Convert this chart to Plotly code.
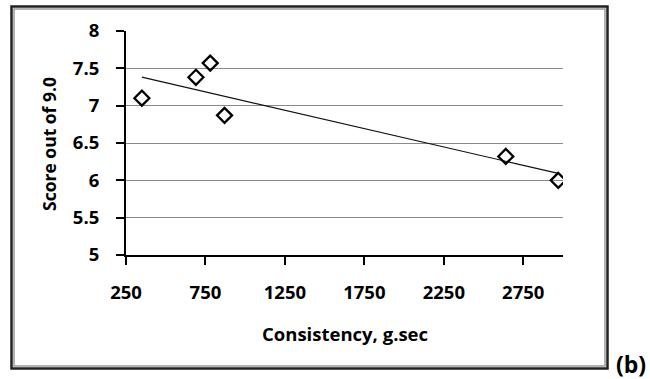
import numpy as np
import plotly.graph_objects as go

# Data
consistency = [350, 690, 780, 870, 2640, 2970]
score = [7.10, 7.38, 7.57, 6.87, 6.32, 6.00]
x_ticks = [250, 750, 1250, 1750, 2250, 2750]
y_ticks = [5, 5.5, 6, 6.5, 7, 7.5, 8]
y_tick_labels = ["5", "5.5", "6", "6.5", "7", "7.5", "8"]

# Linear trendline fitted to the data (as in the original spreadsheet chart)
slope, intercept = np.polyfit(consistency, score, 1)
trend_x = [min(consistency), max(consistency)]
trend_y = [slope * v + intercept for v in trend_x]

W, H = 650, 379
L, R, T, B = 126, 563, 31, 255  # plot area in pixels


def px(x):
    return (x - L) / (R - L)


def py(y):
    return (B - y) / (B - T)


FONT = "Open Sans"

fig = go.Figure()
fig.add_trace(go.Scatter(
    x=trend_x, y=trend_y, mode="lines",
    line=dict(color="#111111", width=1.2), showlegend=False, hoverinfo="skip"))
fig.add_trace(go.Scatter(
    x=consistency, y=score, mode="markers",
    marker=dict(symbol="diamond-open", size=11.5, color="black",
                line=dict(color="black", width=2.3)),
    showlegend=False))

fig.update_layout(
    width=W, height=H,
    margin=dict(l=L, r=W - R, t=T, b=H - B, pad=0),
    paper_bgcolor="white", plot_bgcolor="white",
    font=dict(family=FONT, size=16, color="black"),
    xaxis=dict(range=[250, 3000], tickvals=x_ticks, ticktext=[str(v) for v in x_ticks],
               showgrid=False, zeroline=False, showline=True, linecolor="black", linewidth=2,
               ticks="outside", ticklen=8, tickwidth=2, tickcolor="black",
               tickfont=dict(family=FONT, size=18.5, color="black", weight="bold"),
               ticklabelstandoff=12),
    yaxis=dict(range=[5, 8], tickvals=y_ticks, ticktext=y_tick_labels,
               showgrid=True, gridcolor="#8a8a8a", gridwidth=1, zeroline=False,
               showline=True, linecolor="black", linewidth=2,
               ticks="outside", ticklen=8, tickwidth=2, tickcolor="black",
               tickfont=dict(family=FONT, size=18.5, color="black", weight="bold"),
               ticklabelstandoff=13),
)

# Axis titles
fig.add_annotation(xref="paper", yref="paper", x=px(345), y=py(333), text="Consistency, g.sec",
                   showarrow=False, font=dict(family=FONT, size=18.5, weight="bold"),
                   xanchor="center", yanchor="middle")
fig.add_annotation(xref="paper", yref="paper", x=px(49), y=py(144), text="Score out of 9.0",
                   showarrow=False, textangle=-90, font=dict(family=FONT, size=17.5, weight="bold"),
                   xanchor="center", yanchor="middle")
# Panel label
fig.add_annotation(xref="paper", yref="paper", x=px(631), y=py(364), text="(b)",
                   showarrow=False, font=dict(family=FONT, size=23, weight="bold"),
                   xanchor="center", yanchor="middle")

# Double frame around chart
fig.add_shape(type="rect", xref="paper", yref="paper",
              x0=px(11.5), x1=px(607.5), y0=py(368.5), y1=py(6.5),
              line=dict(color="#222222", width=2.5), layer="below")
fig.add_shape(type="rect", xref="paper", yref="paper",
              x0=px(14), x1=px(605), y0=py(366), y1=py(9),
              line=dict(color="#9a9a9a", width=1.5), layer="below")

fig.write_html("out.html")
